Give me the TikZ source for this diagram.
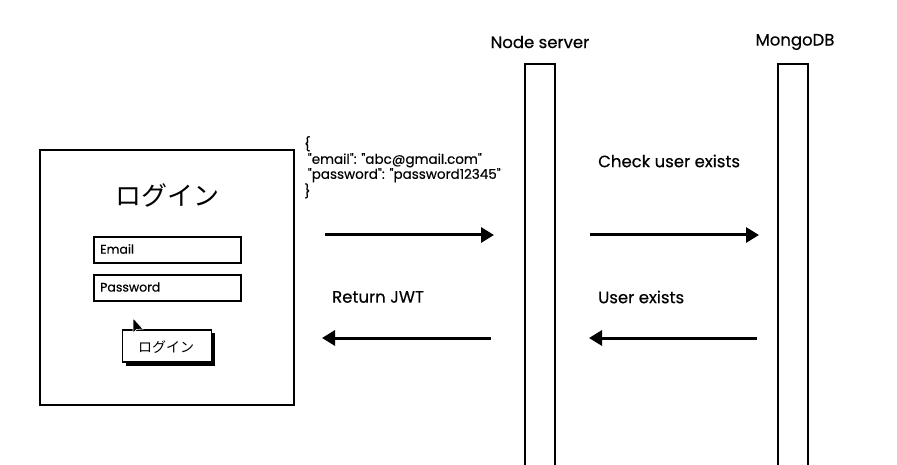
\documentclass[tikz,border=0pt]{standalone}
\usepackage{fontspec}
\setmainfont{Poppins}[FakeBold=0.35]
\newfontfamily\jp{Noto Sans CJK JP}
\usetikzlibrary{arrows.meta}
\begin{document}
\begin{tikzpicture}[x=1pt,y=-1pt,
  frame/.style={draw=black,line width=1.8pt},
  field/.style={draw=black,line width=1.8pt,minimum width=147pt,minimum height=26pt,anchor=north west,inner sep=0pt},
  life/.style={draw=black,line width=1.6pt},
  msg/.style={line width=3pt,-{Triangle[length=13pt,width=15pt]}},
  lbl/.style={font=\fontsize{16.5}{18}\selectfont,anchor=west,inner sep=0pt},
  head/.style={font=\fontsize{16.5}{18}\selectfont,inner sep=0pt}]
\useasboundingbox (0,0) rectangle (897,465);
\fill[white] (0,0) rectangle (897,465);
% login form
\draw[frame] (40,150) rectangle (294,405);
\node[font=\jp\fontsize{26}{28}\selectfont] (title) at (167,195) {ログイン};
\node[field] (email) at (93,236) {};
\node[font=\fontsize{12.5}{14}\selectfont,anchor=west,inner sep=0pt] (emailt) at (100,249) {Email};
\node[field] (pass) at (93,274) {};
\node[font=\fontsize{12.5}{14}\selectfont,anchor=west,inner sep=0pt] (passt) at (100,287) {Password};
\fill[black] (126,333) rectangle (215,366);
\node[draw=black,fill=white,line width=1.2pt,minimum width=89pt,minimum height=32pt,inner sep=0pt] (btn) at (167,346) {};
\node[font=\jp\fontsize{14}{16}\selectfont] (btnt) at (166,347) {ログイン};
\fill[black,draw=white,line width=0.6pt] (133,318) -- (133,333) -- (136.5,329.5) -- (143,329) -- cycle;
% json
\node[font=\fontsize{13.5}{15}\selectfont,align=left,anchor=north west,inner sep=0pt] (json) at (304,136)
  {\{\\ \ \textquotedbl email\textquotedbl: \textquotedbl abc@gmail.com\textquotedbl\\ \ \textquotedbl password\textquotedbl: \textquotedbl password12345\textquotedbl\\ \}};
% lifelines
\node[head] (ns) at (540,42) {Node server};
\node[head] (mg) at (795,42) {MongoDB};
\draw[life] (525,466) -- (525,64) -- (555,64) -- (555,466);
\draw[life] (778,466) -- (778,64) -- (808,64) -- (808,466);
% messages
\coordinate (a1s) at (325,235); \coordinate (a1e) at (494,235);
\coordinate (a2s) at (491,338); \coordinate (a2e) at (322,338);
\coordinate (a3s) at (590,235); \coordinate (a3e) at (759,235);
\coordinate (a4s) at (757,338); \coordinate (a4e) at (589,338);
\draw[msg] (a1s) -- (a1e);
\draw[msg] (a2s) -- (a2e);
\draw[msg] (a3s) -- (a3e);
\draw[msg] (a4s) -- (a4e);
\node[lbl] (l1) at (598,161) {Check user exists};
\node[lbl] (l2) at (332,297) {Return JWT};
\node[lbl] (l3) at (598,297) {User exists};
\end{tikzpicture}
\end{document}
